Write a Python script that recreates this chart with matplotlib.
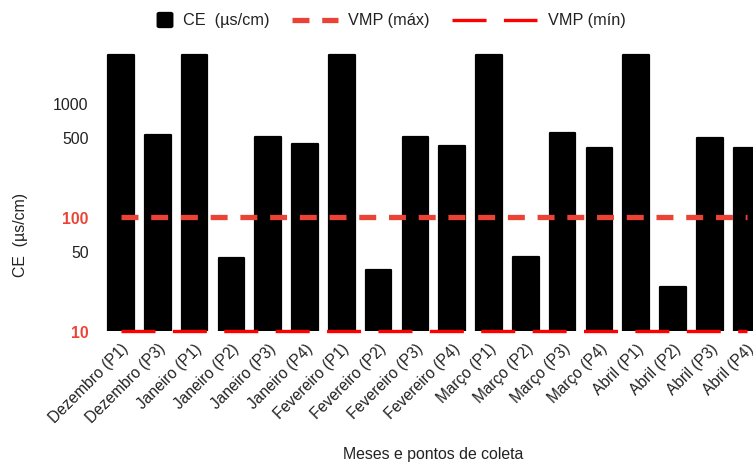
import numpy as np
import matplotlib
matplotlib.use("Agg")
import matplotlib.pyplot as plt
from matplotlib.lines import Line2D
from matplotlib.patches import FancyBboxPatch

plt.rcParams["font.family"] = ["Liberation Sans", "DejaVu Sans"]
plt.rcParams["lines.scale_dashes"] = False

# Collection points (month + sampling point)
categories = [
    "Dezembro (P1)", "Dezembro (P3)",
    "Janeiro (P1)", "Janeiro (P2)", "Janeiro (P3)", "Janeiro (P4)",
    "Fevereiro (P1)", "Fevereiro (P2)", "Fevereiro (P3)", "Fevereiro (P4)",
    "Março (P1)", "Março (P2)", "Março (P3)", "Março (P4)",
    "Abril (P1)", "Abril (P2)", "Abril (P3)", "Abril (P4)",
]
# Electrical conductivity, µs/cm
ce_values = [2600, 520, 2600, 43, 505, 430, 2600, 34, 505, 418,
             2600, 44, 545, 404, 2600, 24, 488, 404]
# Reference limits (VMP)
vmp_max = 100
vmp_min = 10

yticks = [10, 50, 100, 500, 1000]
ytick_labels = ["10", "50", "100", "500", "1000"]

TEXT = "#222222"
RED_MAX = "#EA4335"
RED_MIN = "#FF0000"
FS = 11.4

W, H = 753, 464
fig = plt.figure(figsize=(W / 100, H / 100), dpi=100)

def fx(px):
    return px / W

def fy(py):
    return 1 - py / H

# plot area (extends slightly past the right edge of the canvas)
left, right = 102.6, 765.0
top, bottom = 49.3, 331.7
ax = fig.add_axes([fx(left), fy(bottom), fx(right - left), (bottom - top) / H])

x = np.arange(len(categories))
heights = np.array(ce_values, dtype=float) - vmp_min
ax.bar(x, heights, bottom=vmp_min, width=0.70, color="black",
       edgecolor="black", linewidth=1.6, joinstyle="round", zorder=2)

ax.plot([x[0], x[-1]], [vmp_max, vmp_max], color=RED_MAX, lw=3.8,
        dashes=(12.2, 9.2), solid_capstyle="butt", zorder=3)
ax.plot([x[0], x[-1]], [vmp_min, vmp_min], color=RED_MIN, lw=2.4,
        dashes=(24.5, 12.5), solid_capstyle="butt", zorder=3, clip_on=False)

ax.set_yscale("log")
ax.set_ylim(10, 3000)
ax.set_xlim(-0.5, len(categories) - 0.5)

ax.yaxis.set_major_locator(matplotlib.ticker.FixedLocator(yticks))
ax.yaxis.set_minor_locator(matplotlib.ticker.NullLocator())
ax.set_yticklabels(ytick_labels)
for lbl, val in zip(ax.get_yticklabels(), yticks):
    if val in (vmp_min, vmp_max):
        lbl.set_color(RED_MAX)
        lbl.set_fontweight("bold")
    else:
        lbl.set_color(TEXT)
ax.tick_params(axis="y", length=0, pad=10, labelsize=FS)

ax.set_xticks(x)
ax.set_xticklabels(categories, rotation=45, ha="right",
                   rotation_mode="anchor", color=TEXT, fontsize=11.2)
ax.tick_params(axis="x", length=0, pad=7)

for s in ax.spines.values():
    s.set_visible(False)

# axis titles
fig.text(fx(433), fy(455), "Meses e pontos de coleta", ha="center",
         va="center", fontsize=FS, color=TEXT)
fig.text(fx(21), fy(235), "CE  (µs/cm)", ha="center", va="center",
         rotation=90, fontsize=FS, color=TEXT)

# legend row
ly = fy(21)
LFS = 11.7
fig.patches.append(FancyBboxPatch((fx(158), fy(28)), fx(14), 14 / H,
                                  boxstyle="round,pad=0.001,rounding_size=0.003",
                                  transform=fig.transFigure, facecolor="black",
                                  edgecolor="black"))
fig.text(fx(183), ly, "CE  (µs/cm)", ha="left", va="center",
         fontsize=LFS, color=TEXT)
fig.lines.append(Line2D([fx(292), fx(338)], [ly, ly], transform=fig.transFigure,
                        color=RED_MAX, lw=3.8, dashes=(12.2, 9.2),
                        solid_capstyle="butt"))
fig.text(fx(348), ly, "VMP (máx)", ha="left", va="center",
         fontsize=LFS, color=TEXT)
fig.lines.append(Line2D([fx(452), fx(537)], [ly, ly], transform=fig.transFigure,
                        color=RED_MIN, lw=2.4, dashes=(24.5, 12.5),
                        solid_capstyle="butt"))
fig.text(fx(548), ly, "VMP (mín)", ha="left", va="center",
         fontsize=LFS, color=TEXT)

fig.savefig("out.png", dpi=100)
